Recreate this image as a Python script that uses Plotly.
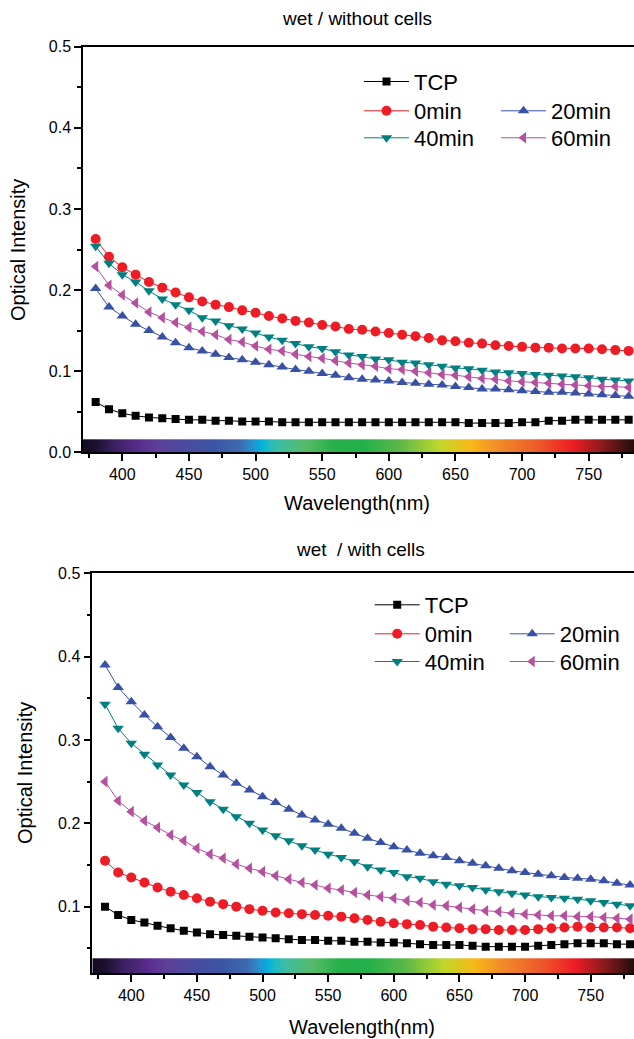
import numpy as np
import plotly.graph_objects as go

# ---------------- data ----------------
wavelength = [380, 390, 400, 410, 420, 430, 440, 450, 460, 470, 480, 490, 500,
              510, 520, 530, 540, 550, 560, 570, 580, 590, 600, 610, 620, 630,
              640, 650, 660, 670, 680, 690, 700, 710, 720, 730, 740, 750, 760,
              770, 780]

series_names = ["TCP", "0min", "20min", "40min", "60min"]

# wet / without cells
top_tcp = [0.062, 0.053, 0.048, 0.045, 0.043, 0.042, 0.041, 0.040, 0.040, 0.039,
           0.039, 0.038, 0.038, 0.038, 0.037, 0.037, 0.037, 0.037, 0.037, 0.037,
           0.037, 0.037, 0.037, 0.037, 0.037, 0.037, 0.037, 0.037, 0.036, 0.036,
           0.036, 0.036, 0.037, 0.037, 0.039, 0.039, 0.040, 0.040, 0.040, 0.040,
           0.040]
top_0min = [0.263, 0.241, 0.228, 0.219, 0.210, 0.203, 0.197, 0.191, 0.186, 0.182,
            0.179, 0.175, 0.172, 0.168, 0.165, 0.162, 0.160, 0.157, 0.155, 0.152,
            0.151, 0.149, 0.147, 0.145, 0.143, 0.141, 0.138, 0.137, 0.135, 0.134,
            0.132, 0.131, 0.130, 0.129, 0.129, 0.128, 0.128, 0.128, 0.127, 0.126,
            0.125]
top_20min = [0.202, 0.179, 0.168, 0.158, 0.150, 0.142, 0.135, 0.129, 0.125, 0.121,
             0.117, 0.114, 0.111, 0.108, 0.105, 0.102, 0.100, 0.097, 0.095, 0.092,
             0.090, 0.089, 0.088, 0.086, 0.085, 0.084, 0.083, 0.081, 0.080, 0.078,
             0.078, 0.077, 0.076, 0.075, 0.074, 0.074, 0.073, 0.072, 0.071, 0.070,
             0.069]
top_40min = [0.254, 0.233, 0.219, 0.210, 0.199, 0.189, 0.182, 0.175, 0.166, 0.162,
             0.156, 0.152, 0.147, 0.142, 0.138, 0.134, 0.130, 0.128, 0.124, 0.120,
             0.118, 0.115, 0.114, 0.111, 0.110, 0.108, 0.106, 0.104, 0.103, 0.101,
             0.099, 0.098, 0.097, 0.096, 0.095, 0.094, 0.093, 0.092, 0.090, 0.089,
             0.088]
top_60min = [0.229, 0.206, 0.194, 0.184, 0.173, 0.166, 0.160, 0.154, 0.149, 0.145,
             0.139, 0.136, 0.131, 0.127, 0.125, 0.121, 0.118, 0.116, 0.113, 0.110,
             0.108, 0.106, 0.103, 0.102, 0.100, 0.098, 0.096, 0.095, 0.093, 0.091,
             0.090, 0.088, 0.087, 0.086, 0.085, 0.084, 0.083, 0.082, 0.081, 0.081,
             0.080]

# wet / with cells
bot_tcp = [0.100, 0.090, 0.084, 0.081, 0.077, 0.074, 0.071, 0.069, 0.067, 0.066,
           0.065, 0.064, 0.063, 0.062, 0.061, 0.060, 0.060, 0.059, 0.059, 0.058,
           0.058, 0.057, 0.057, 0.056, 0.055, 0.054, 0.054, 0.054, 0.053, 0.052,
           0.052, 0.052, 0.052, 0.053, 0.054, 0.055, 0.056, 0.056, 0.056, 0.055,
           0.055]
bot_0min = [0.155, 0.141, 0.135, 0.129, 0.123, 0.118, 0.114, 0.110, 0.106, 0.103,
            0.100, 0.097, 0.095, 0.093, 0.092, 0.091, 0.090, 0.089, 0.088, 0.086,
            0.084, 0.082, 0.080, 0.079, 0.078, 0.076, 0.075, 0.074, 0.073, 0.073,
            0.072, 0.072, 0.072, 0.073, 0.074, 0.075, 0.076, 0.075, 0.075, 0.075,
            0.074]
bot_20min = [0.390, 0.363, 0.346, 0.330, 0.316, 0.303, 0.290, 0.280, 0.268, 0.258,
             0.248, 0.240, 0.232, 0.225, 0.217, 0.210, 0.204, 0.199, 0.194, 0.188,
             0.182, 0.177, 0.172, 0.168, 0.164, 0.161, 0.159, 0.155, 0.152, 0.149,
             0.146, 0.143, 0.141, 0.139, 0.137, 0.135, 0.134, 0.133, 0.131, 0.128,
             0.126]
bot_40min = [0.343, 0.314, 0.296, 0.283, 0.270, 0.258, 0.246, 0.237, 0.226, 0.217,
             0.208, 0.200, 0.192, 0.185, 0.179, 0.173, 0.168, 0.163, 0.159, 0.154,
             0.148, 0.144, 0.141, 0.136, 0.134, 0.130, 0.127, 0.125, 0.123, 0.120,
             0.118, 0.116, 0.114, 0.112, 0.111, 0.110, 0.109, 0.107, 0.105, 0.103,
             0.101]
bot_60min = [0.250, 0.227, 0.214, 0.203, 0.195, 0.186, 0.179, 0.170, 0.163, 0.158,
             0.151, 0.146, 0.142, 0.137, 0.133, 0.129, 0.126, 0.122, 0.120, 0.117,
             0.114, 0.112, 0.110, 0.107, 0.105, 0.102, 0.101, 0.099, 0.097, 0.095,
             0.094, 0.092, 0.091, 0.090, 0.089, 0.089, 0.088, 0.088, 0.087, 0.086,
             0.085]

# visible-spectrum strip colour stops
spectrum_nm = [370, 380, 393, 413, 426, 443, 468, 488, 497, 503, 510, 518, 538,
               558, 580, 608, 638, 661, 683, 711, 738, 760, 781, 790]
spectrum_col = ["#140a20", "#1c1030", "#3a2060", "#5a2d8f", "#5e3f98", "#4d4a9e",
                "#3b55a5", "#3e6ab0", "#2a90cc", "#00aee0", "#20bcc0", "#40bda0",
                "#55bb66", "#28b04a", "#22b04a", "#5ab848", "#c0d82a", "#f8b818",
                "#f08a28", "#ef5a2a", "#ed1c24", "#8a1a1e", "#2a0e0e", "#200a0a"]

# ---------------- styling ----------------
W, H = 634, 1039
FONT = "Arial, 'Liberation Sans', sans-serif"
colors = ["#000000", "#ee1c25", "#3850a5", "#008080", "#b5509f"]
symbols = ["square", "circle", "triangle-up", "triangle-down", "triangle-left"]
msizes = [8, 10, 10, 10, 10]


def px_x(p):
    return p / W


def px_y(p):
    return 1 - p / H


fig = go.Figure()

panels = [
    dict(xa="x", ya="y", data=[top_tcp, top_0min, top_20min, top_40min, top_60min],
         strip=(0.0, 0.016), leg0=1,
         rows=[81.7, 111, 138], cols=[(361, 416), (498, 553)]),
    dict(xa="x2", ya="y2", data=[bot_tcp, bot_0min, bot_20min, bot_40min, bot_60min],
         strip=(0.02, 0.038), leg0=6,
         rows=[605, 634, 661.7], cols=[(371, 426.7), (507, 561.7)]),
]

zmin, zmax = spectrum_nm[0], spectrum_nm[-1]
cscale = [[(n - zmin) / (zmax - zmin), c] for n, c in zip(spectrum_nm, spectrum_col)]
x_edges = np.linspace(zmin, zmax, 421)
x_cent = (x_edges[:-1] + x_edges[1:]) / 2

legend_layout = {}
for p in panels:
    fig.add_trace(go.Heatmap(
        x=x_edges, y=list(p["strip"]), z=[x_cent], colorscale=cscale,
        zmin=zmin, zmax=zmax, showscale=False, hoverinfo="skip",
        xaxis=p["xa"], yaxis=p["ya"], zsmooth="best"))
    # legend slots: TCP (row0,col0), 0min (row1,col0), 20min (row1,col1),
    # 40min (row2,col0), 60min (row2,col1)
    slots = [(0, 0), (1, 0), (1, 1), (2, 0), (2, 1)]
    for i, name in enumerate(series_names):
        lname = "legend" if p["leg0"] + i == 1 else f"legend{p['leg0'] + i}"
        fig.add_trace(go.Scatter(
            x=wavelength, y=p["data"][i], name=name, mode="lines+markers",
            line=dict(color=colors[i], width=1),
            marker=dict(symbol=symbols[i], size=msizes[i], color=colors[i]),
            xaxis=p["xa"], yaxis=p["ya"], legend=lname, showlegend=True))
        r, c = slots[i]
        legend_layout[lname] = dict(
            x=px_x(p["cols"][c][1] - 57), y=px_y(p["rows"][r]),
            xanchor="left", yanchor="middle", bgcolor="rgba(0,0,0,0)",
            borderwidth=0, itemwidth=45,
            font=dict(family=FONT, size=22, color="black"))

axis_common = dict(
    showgrid=False, zeroline=False, showline=True, linecolor="black",
    linewidth=1.5, ticks="outside", ticklen=7, tickwidth=1.5, tickcolor="black",
    tickfont=dict(family=FONT, size=16, color="black"), automargin=False)

fig.update_layout(
    width=W, height=H, margin=dict(l=0, r=0, t=0, b=0),
    paper_bgcolor="white", plot_bgcolor="white", showlegend=True,
    xaxis=dict(domain=[px_x(83), 1], range=[370.5, 784], anchor="y",
               dtick=50, tick0=0, mirror=True,
               minor=dict(dtick=25, tick0=0, ticks="outside", ticklen=4,
                          tickwidth=1.5, tickcolor="black"), **axis_common),
    yaxis=dict(domain=[px_y(452.3), px_y(46.7)], range=[0, 0.5], anchor="x",
               dtick=0.1, tick0=0, tickformat=".1f",
               minor=dict(dtick=0.05, tick0=0, ticks="outside", ticklen=4,
                          tickwidth=1.5, tickcolor="black"), **axis_common),
    xaxis2=dict(domain=[px_x(92.3), 1], range=[370.3, 783], anchor="y2",
                dtick=50, tick0=0, mirror=True,
                minor=dict(dtick=25, tick0=0, ticks="outside", ticklen=4,
                           tickwidth=1.5, tickcolor="black"), **axis_common),
    yaxis2=dict(domain=[px_y(973.3), px_y(573.3)], range=[0.02, 0.5], anchor="x2",
                dtick=0.1, tick0=0, tickformat=".1f",
                minor=dict(dtick=0.05, tick0=0, ticks="outside", ticklen=4,
                           tickwidth=1.5, tickcolor="black"), **axis_common),
    **legend_layout,
)

annots = [
    dict(text="wet / without cells", x=px_x(357), y=px_y(18), size=19, angle=0),
    dict(text="Optical Intensity", x=px_x(18), y=px_y(250), size=20, angle=-90),
    dict(text="Wavelength(nm)", x=px_x(357), y=px_y(503), size=20, angle=0),
    dict(text="wet  / with cells", x=px_x(360), y=px_y(549), size=19, angle=0),
    dict(text="Optical Intensity", x=px_x(25), y=px_y(773), size=20, angle=-90),
    dict(text="Wavelength(nm)", x=px_x(362), y=px_y(1027), size=20, angle=0),
]
for a in annots:
    fig.add_annotation(text=a["text"].replace("  ", "&nbsp; "), x=a["x"], y=a["y"],
                       xref="paper", yref="paper", showarrow=False,
                       xanchor="center", yanchor="middle", textangle=a["angle"],
                       font=dict(family=FONT, size=a["size"], color="black"))

fig.write_html("out.html")
